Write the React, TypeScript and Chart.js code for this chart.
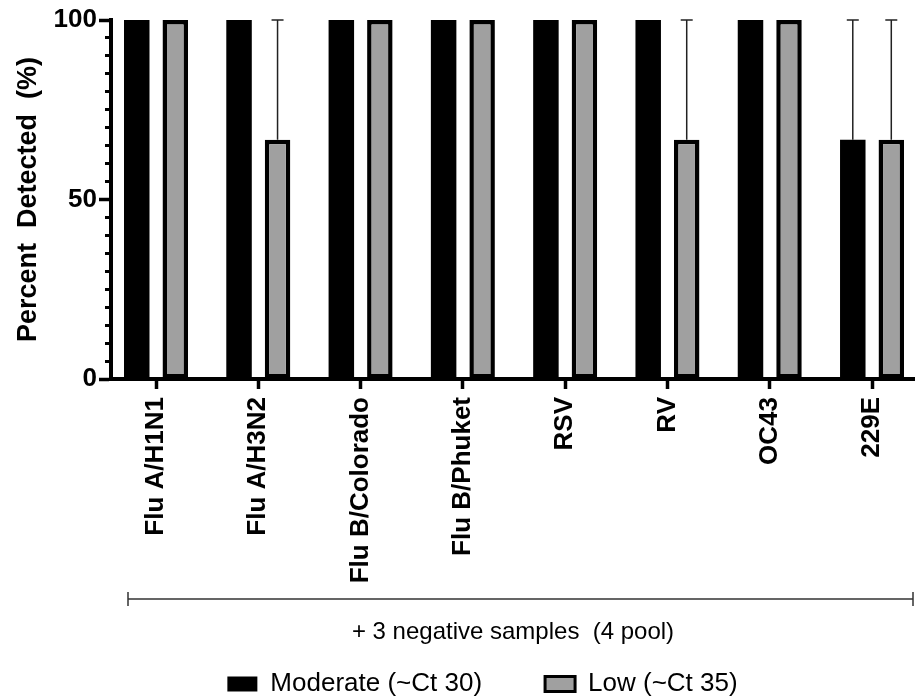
import React, { useEffect, useRef } from "react";
import { Chart, registerables } from "chart.js";

Chart.register(...registerables);

const categories = ["Flu A/H1N1", "Flu A/H3N2", "Flu B/Colorado", "Flu B/Phuket", "RSV", "RV", "OC43", "229E"];
const moderateValues = [100, 100, 100, 100, 100, 100, 100, 66.67];
const lowValues = [100, 66.67, 100, 100, 100, 66.67, 100, 66.67];
const moderateErrors = [0, 0, 0, 0, 0, 0, 0, 33.33];
const lowErrors = [0, 33.33, 0, 0, 0, 33.33, 0, 33.33];
const seriesNames = ["Moderate (~Ct 30)", "Low (~Ct 35)"];
const yTitle = "Percent  Detected  (%)";
const xTitle = "+ 3 negative samples  (4 pool)";

const FONT = "'Liberation Sans', Arial, Helvetica, sans-serif";
const W = 915;
const H = 707;

const errorBarPlugin = {
  id: "errorBars",
  afterDatasetsDraw(chart: any) {
    const ctx = chart.ctx;
    const yScale = chart.scales.y;
    chart.data.datasets.forEach((ds: any, di: number) => {
      const meta = chart.getDatasetMeta(di);
      const errs: number[] = ds.errorBars || [];
      meta.data.forEach((bar: any, i: number) => {
        const e = errs[i];
        if (!e) return;
        const v = ds.data[i].y;
        const yTop = yScale.getPixelForValue(v + e);
        ctx.save();
        ctx.strokeStyle = "#222";
        ctx.lineWidth = 1.5;
        ctx.beginPath();
        ctx.moveTo(bar.x, bar.y);
        ctx.lineTo(bar.x, yTop);
        ctx.moveTo(bar.x - 6, yTop);
        ctx.lineTo(bar.x + 6, yTop);
        ctx.stroke();
        ctx.restore();
      });
    });
  },
};

const bracketPlugin = {
  id: "bracket",
  afterDraw(chart: any) {
    const x = chart.scales.x;
    const ctx = chart.ctx;
    const y = x.top + 220;
    const l = x.left + 17;
    const r = x.right - 2;
    ctx.save();
    ctx.strokeStyle = "#333";
    ctx.lineWidth = 1.5;
    ctx.beginPath();
    ctx.moveTo(l, y);
    ctx.lineTo(r, y);
    ctx.moveTo(l, y - 7);
    ctx.lineTo(l, y + 7);
    ctx.moveTo(r, y - 7);
    ctx.lineTo(r, y + 7);
    ctx.stroke();
    ctx.restore();
  },
};

export default function App() {
  const ref = useRef<HTMLCanvasElement | null>(null);

  useEffect(() => {
    if (!ref.current) return;
    const chart = new Chart(ref.current, {
      type: "bar",
      data: {
        datasets: [
          {
            label: seriesNames[0],
            data: moderateValues.map((v, i) => ({ x: i, y: v })),
            backgroundColor: "#000",
            borderColor: "#000",
            borderWidth: 0,
            errorBars: moderateErrors,
            categoryPercentage: 0.753,
            barPercentage: 0.662,
          } as any,
          {
            label: seriesNames[1],
            data: lowValues.map((v, i) => ({ x: i, y: v })),
            backgroundColor: "#a0a0a0",
            borderColor: "#000",
            borderWidth: 4.5,
            borderSkipped: false,
            errorBars: lowErrors,
            categoryPercentage: 0.753,
            barPercentage: 0.662,
          } as any,
        ],
      },
      options: {
        responsive: false,
        animation: false,
        layout: { padding: { left: 50, top: 20, right: 0, bottom: 0 } },
        plugins: {
          tooltip: { enabled: false },
          legend: {
            display: true,
            position: "bottom",
            labels: {
              color: "#000",
              font: { family: FONT, size: 26 },
              boxWidth: 30,
              boxHeight: 15,
              padding: 63,
              generateLabels: (c: any) => {
                const items = Chart.defaults.plugins.legend.labels.generateLabels(c);
                return items.map((it: any) => ({ ...it, lineWidth: it.lineWidth ? 3 : 0 }));
              },
            },
          },
        },
        scales: {
          x: {
            type: "linear",
            min: -0.44,
            max: 7.42,
            offset: false,
            afterBuildTicks: (scale: any) => {
              scale.ticks = categories.map((_, i) => ({ value: i }));
            },
            afterFit: (scale: any) => {
              const lh = scale.chart.legend ? scale.chart.legend.height : 0;
              scale.height = scale.chart.height - lh - 379;
            },
            ticks: {
              autoSkip: false,
              minRotation: 90,
              maxRotation: 90,
              padding: 8,
              color: "#000",
              font: { family: FONT, size: 26, weight: "bold" },
              callback: (v: any) => categories[v] ?? "",
            },
            grid: {
              offset: false,
              drawOnChartArea: false,
              drawTicks: true,
              tickLength: 10,
              tickWidth: 3.5,
              tickColor: "#000",
            },
            border: { display: true, width: 4, color: "#000" },
            title: {
              display: true,
              text: xTitle,
              color: "#000",
              font: { family: FONT, size: 24 },
              padding: { top: 0, bottom: -39 },
            },
          },
          y: {
            type: "linear",
            position: "left",
            weight: 1,
            min: 0,
            max: 100,
            afterFit: (scale: any) => {
              scale.width = 61;
            },
            ticks: {
              stepSize: 50,
              padding: 2,
              color: "#000",
              font: { family: FONT, size: 26, weight: "bold" },
            },
            grid: {
              drawOnChartArea: false,
              drawTicks: true,
              tickLength: 12,
              tickWidth: 3.5,
              tickColor: "#000",
            },
            border: { display: true, width: 4, color: "#000" },
            title: {
              display: true,
              text: yTitle,
              color: "#000",
              font: { family: FONT, size: 27, weight: "bold" },
              padding: { top: -38, bottom: 0 },
            },
          },
          y2: {
            type: "linear",
            position: "left",
            weight: 0,
            min: 0,
            max: 100,
            afterFit: (scale: any) => {
              scale.width = 0;
            },
            ticks: { stepSize: 5, display: false },
            grid: {
              drawOnChartArea: false,
              drawTicks: true,
              tickLength: 6,
              tickWidth: 3,
              tickColor: "#000",
            },
            border: { display: false },
          },
        },
      } as any,
      plugins: [errorBarPlugin, bracketPlugin],
    });
    return () => chart.destroy();
  }, []);

  return (
    <div style={{ position: "absolute", left: 0, top: 0, width: W, height: 699, overflow: "hidden", background: "#fff" }}>
      <canvas ref={ref} width={W} height={H} style={{ display: "block", width: W, height: H }} />
    </div>
  );
}
